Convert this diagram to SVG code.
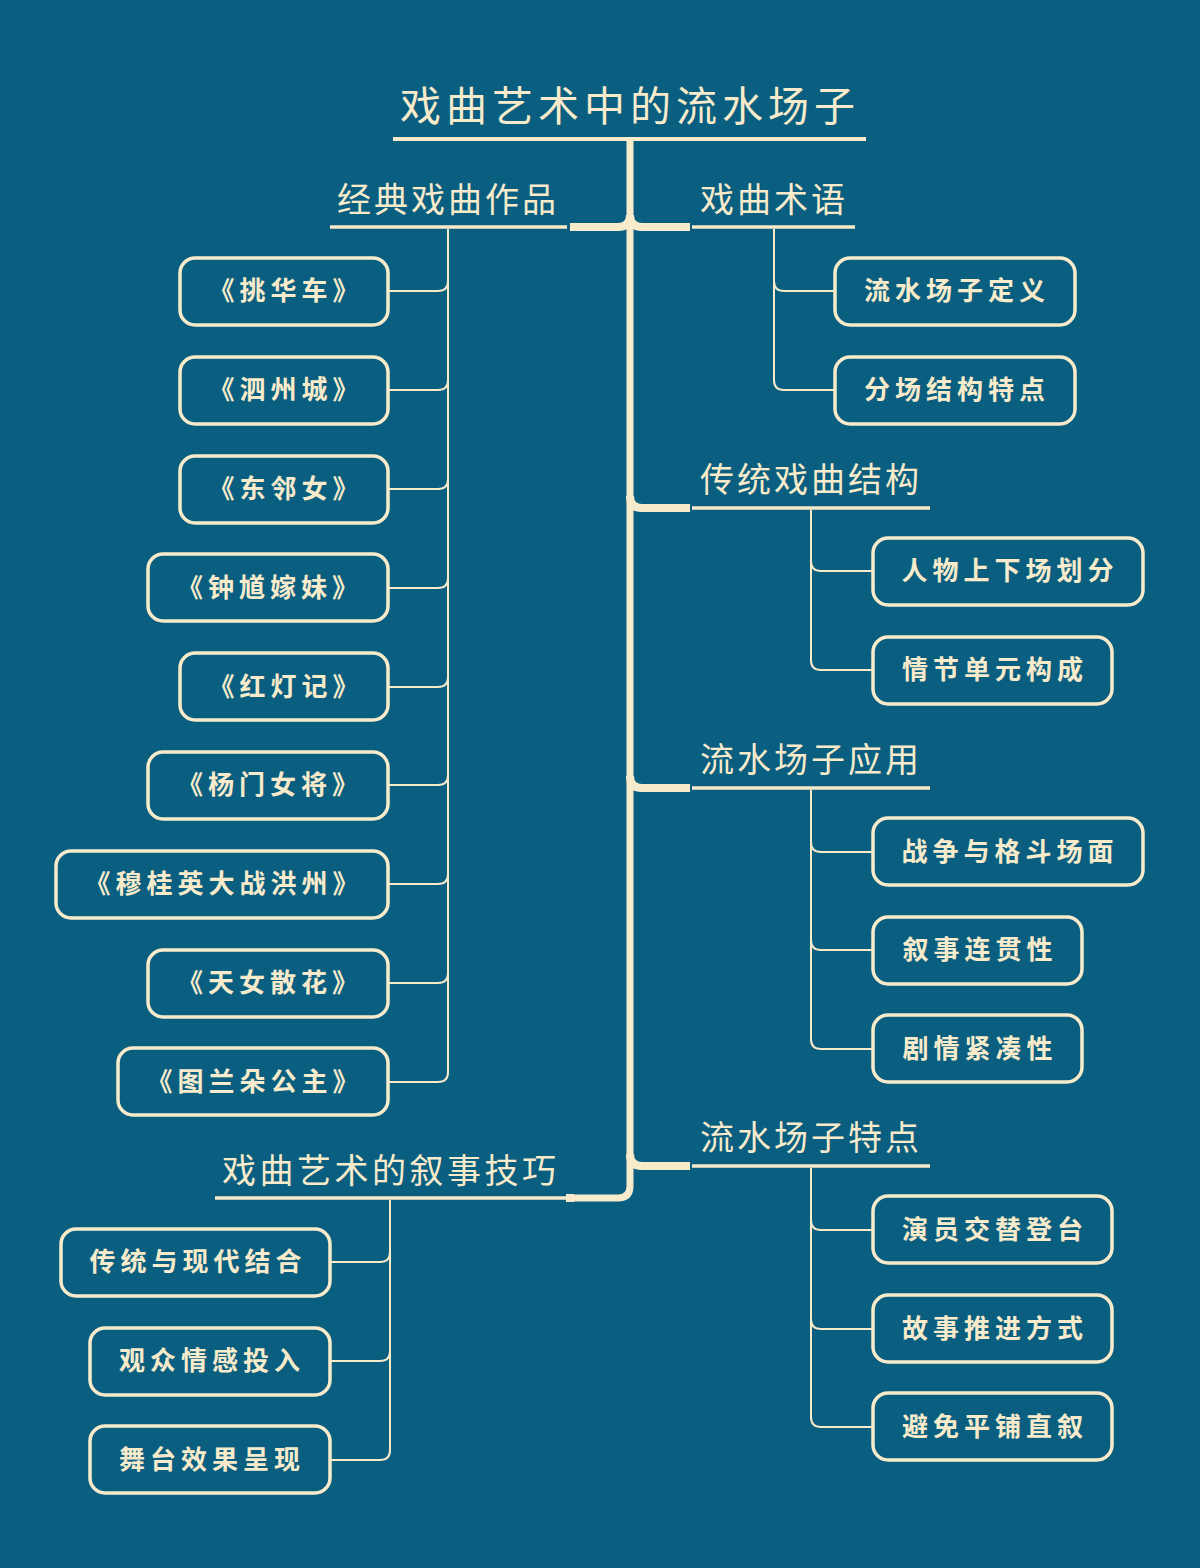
<svg xmlns="http://www.w3.org/2000/svg" width="1200" height="1568" viewBox="0 0 1200 1568">
<style>
.bg{fill:#0A5E80}
.node rect{fill:none;stroke:#F8EBCB;stroke-width:3.5}
.node text{fill:#F8EBCB;font-family:"Noto Sans CJK SC","Noto Sans CJK TC",sans-serif;font-size:26px;font-weight:bold;letter-spacing:5px;text-anchor:middle}
.lbl{fill:#F8EBCB;font-family:"Noto Sans CJK SC","Noto Sans CJK TC",sans-serif;font-size:34px;letter-spacing:3px}
.title{fill:#F8EBCB;font-family:"Noto Sans CJK SC","Noto Sans CJK TC",sans-serif;font-size:41px;letter-spacing:5px}
.thick{fill:none;stroke:#F8EBCB;stroke-width:7;stroke-linecap:butt}
.bar{fill:none;stroke:#F8EBCB;stroke-width:8}
.ul{fill:none;stroke:#F8EBCB;stroke-width:3.5}
.thin{fill:none;stroke:#F8EBCB;stroke-width:2}
</style>
<rect class="bg" x="0" y="0" width="1200" height="1568"/>

<g id="connectors">
  <!-- title underline -->
  <line class="ul" x1="393" y1="139" x2="866" y2="139" style="stroke-width:4"/>
  <!-- trunk -->
  <path class="thick" d="M630,139 V1186 Q630,1198 618,1198 H570"/>
  <!-- left top branch -->
  <path class="bar" d="M630,215 Q630,227 618,227 H570"/>
  <line class="ul" x1="330" y1="227" x2="567" y2="227"/>
  <!-- right branches -->
  <path class="bar" d="M630,215 Q630,227 642,227 H690"/>
  <line class="ul" x1="692" y1="227" x2="855" y2="227"/>
  <path class="bar" d="M630,496 Q630,508 642,508 H690"/>
  <line class="ul" x1="692" y1="508" x2="930" y2="508"/>
  <path class="bar" d="M630,776 Q630,788 642,788 H690"/>
  <line class="ul" x1="692" y1="788" x2="930" y2="788"/>
  <path class="bar" d="M630,1154 Q630,1166 642,1166 H690"/>
  <line class="ul" x1="692" y1="1166" x2="930" y2="1166"/>
  <!-- bottom left branch -->
  <line class="bar" x1="566" y1="1198" x2="574" y2="1198"/>
  <line class="ul" x1="215" y1="1198" x2="566" y2="1198"/>

  <!-- 经典戏曲作品 children -->
  <path class="thin" d="M448,229 V1072 Q448,1082 438,1082 H388"/>
  <path class="thin" d="M448,281 Q448,291 438,291 H388"/>
  <path class="thin" d="M448,380 Q448,390 438,390 H388"/>
  <path class="thin" d="M448,479 Q448,489 438,489 H388"/>
  <path class="thin" d="M448,578 Q448,588 438,588 H388"/>
  <path class="thin" d="M448,677 Q448,687 438,687 H388"/>
  <path class="thin" d="M448,775 Q448,785 438,785 H388"/>
  <path class="thin" d="M448,874 Q448,884 438,884 H388"/>
  <path class="thin" d="M448,973 Q448,983 438,983 H388"/>

  <!-- 戏曲术语 children -->
  <path class="thin" d="M774,229 V380 Q774,390 784,390 H835"/>
  <path class="thin" d="M774,281 Q774,291 784,291 H835"/>

  <!-- 传统戏曲结构 children -->
  <path class="thin" d="M811,510 V660 Q811,670 821,670 H873"/>
  <path class="thin" d="M811,561 Q811,571 821,571 H873"/>

  <!-- 流水场子应用 children -->
  <path class="thin" d="M811,790 V1039 Q811,1049 821,1049 H873"/>
  <path class="thin" d="M811,842 Q811,852 821,852 H873"/>
  <path class="thin" d="M811,940 Q811,950 821,950 H873"/>

  <!-- 流水场子特点 children -->
  <path class="thin" d="M811,1168 V1417 Q811,1427 821,1427 H873"/>
  <path class="thin" d="M811,1220 Q811,1230 821,1230 H873"/>
  <path class="thin" d="M811,1319 Q811,1329 821,1329 H873"/>

  <!-- 叙事技巧 children -->
  <path class="thin" d="M390,1200 V1450 Q390,1460 380,1460 H330"/>
  <path class="thin" d="M390,1252 Q390,1262 380,1262 H330"/>
  <path class="thin" d="M390,1351 Q390,1361 380,1361 H330"/>
</g>

<g id="title"><text class="title" x="400" y="121">戏曲艺术中的流水场子</text></g>

<g id="branch-classic"><text class="lbl" x="337" y="212">经典戏曲作品</text></g>
<g id="branch-terms"><text class="lbl" x="700" y="212">戏曲术语</text></g>
<g id="branch-structure"><text class="lbl" x="700" y="492">传统戏曲结构</text></g>
<g id="branch-apply"><text class="lbl" x="700" y="772">流水场子应用</text></g>
<g id="branch-feature"><text class="lbl" x="700" y="1150">流水场子特点</text></g>
<g id="branch-narrative"><text class="lbl" x="222" y="1183" style="letter-spacing:3.5px">戏曲艺术的叙事技巧</text></g>

<g id="n1" class="node"><rect x="180" y="258" width="208" height="67" rx="15"/><text x="286" y="300">《挑华车》</text></g>
<g id="n2" class="node"><rect x="180" y="357" width="208" height="67" rx="15"/><text x="286" y="399">《泗州城》</text></g>
<g id="n3" class="node"><rect x="180" y="456" width="208" height="67" rx="15"/><text x="286" y="498">《东邻女》</text></g>
<g id="n4" class="node"><rect x="148" y="554" width="240" height="67" rx="15"/><text x="270" y="597">《钟馗嫁妹》</text></g>
<g id="n5" class="node"><rect x="180" y="653" width="208" height="67" rx="15"/><text x="286" y="696">《红灯记》</text></g>
<g id="n6" class="node"><rect x="148" y="752" width="240" height="67" rx="15"/><text x="270" y="794">《杨门女将》</text></g>
<g id="n7" class="node"><rect x="56" y="851" width="332" height="67" rx="15"/><text x="224" y="893">《穆桂英大战洪州》</text></g>
<g id="n8" class="node"><rect x="148" y="950" width="240" height="67" rx="15"/><text x="270" y="992">《天女散花》</text></g>
<g id="n9" class="node"><rect x="118" y="1048" width="270" height="67" rx="15"/><text x="255" y="1091">《图兰朵公主》</text></g>

<g id="t1" class="node"><rect x="835" y="258" width="240" height="67" rx="15"/><text x="957" y="300">流水场子定义</text></g>
<g id="t2" class="node"><rect x="835" y="357" width="240" height="67" rx="15"/><text x="957" y="399">分场结构特点</text></g>

<g id="s1" class="node"><rect x="873" y="538" width="270" height="67" rx="15"/><text x="1010" y="580">人物上下场划分</text></g>
<g id="s2" class="node"><rect x="873" y="637" width="239" height="67" rx="15"/><text x="995" y="679">情节单元构成</text></g>

<g id="a1" class="node"><rect x="873" y="818" width="270" height="67" rx="15"/><text x="1010" y="861">战争与格斗场面</text></g>
<g id="a2" class="node"><rect x="873" y="917" width="209" height="67" rx="15"/><text x="980" y="959">叙事连贯性</text></g>
<g id="a3" class="node"><rect x="873" y="1015" width="209" height="67" rx="15"/><text x="980" y="1058">剧情紧凑性</text></g>

<g id="f1" class="node"><rect x="873" y="1196" width="239" height="67" rx="15"/><text x="995" y="1239">演员交替登台</text></g>
<g id="f2" class="node"><rect x="873" y="1295" width="239" height="67" rx="15"/><text x="995" y="1338">故事推进方式</text></g>
<g id="f3" class="node"><rect x="873" y="1393" width="239" height="67" rx="15"/><text x="995" y="1436">避免平铺直叙</text></g>

<g id="k1" class="node"><rect x="61" y="1229" width="269" height="67" rx="15"/><text x="198" y="1271">传统与现代结合</text></g>
<g id="k2" class="node"><rect x="90" y="1328" width="240" height="67" rx="15"/><text x="212" y="1370">观众情感投入</text></g>
<g id="k3" class="node"><rect x="90" y="1426" width="240" height="67" rx="15"/><text x="212" y="1469">舞台效果呈现</text></g>
</svg>
